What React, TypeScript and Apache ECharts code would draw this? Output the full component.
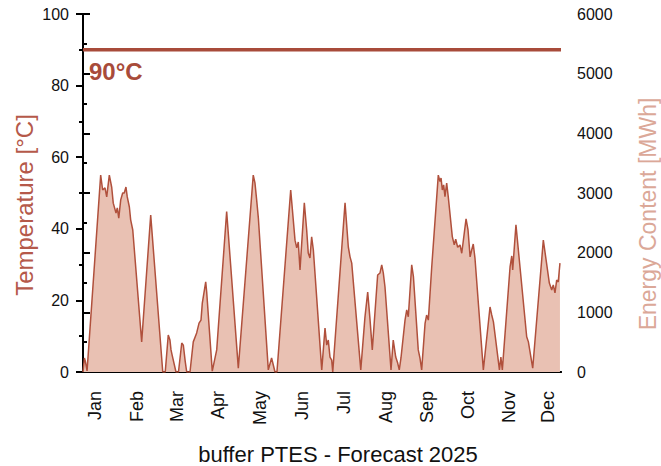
import { useEffect, useRef } from "react";
import * as echarts from "echarts";

// Month captions and the day of the year where each caption sits
const monthNames = ["Jan", "Feb", "Mar", "Apr", "May", "Jun", "Jul", "Aug", "Sep", "Oct", "Nov", "Dec"];
const monthLabelDays = [9, 41, 72, 103, 135, 167, 199, 231, 263, 294, 325, 355];

// Energy content of the buffer PTES in MWh: [day of year, MWh]
const energyContent: [number, number][] = [
  [0, 0], [1.1, 235], [1.9, 168], [3.1, 17],
  [13.5, 3300], [15.0, 3050], [16.8, 3085], [18.1, 2935], [20.1, 3300], [21.9, 3100], [23.1, 2830],
  [25.2, 2665], [26.2, 2750], [27.3, 2580], [28.8, 2885], [30.3, 3000], [31.5, 3000], [32.8, 3100],
  [33.8, 2935], [35.4, 2765], [36.4, 2550], [38.0, 2380],
  [44.8, 505], [51.7, 2630], [60.9, 0], [62.8, 0], [65.1, 620], [66.4, 535], [67.2, 370], [68.2, 270],
  [71.0, 0], [72.9, 0], [75.4, 485], [76.6, 450], [78.1, 170], [79.2, 0], [81.7, 0],
  [84.2, 505], [86.8, 655], [88.6, 820], [90.1, 870], [91.1, 1155], [93.7, 1510], [94.5, 1325], [98.7, 15],
  [102.1, 370], [109.7, 2690], [118.6, 65],
  [130.0, 3300], [131.3, 3170], [132.6, 2885], [133.9, 2580], [141.5, 35], [144.0, 235], [145.5, 100],
  [146.6, 0], [148.1, 0],
  [158.6, 3050], [161.9, 2210], [163.2, 2080], [164.4, 2180], [165.7, 1710], [169.0, 2835], [170.8, 2380],
  [172.0, 1995], [173.3, 1910], [174.6, 2265], [175.9, 2045], [182.3, 35],
  [184.8, 735], [186.1, 450], [187.3, 535], [188.6, 250], [189.9, 200], [190.7, 0],
  [200.1, 2835], [202.6, 2095], [203.9, 1930], [205.2, 1825], [212.1, 35],
  [215.3, 920], [217.4, 1340], [219.2, 870], [220.9, 370],
  [225.0, 1625], [226.8, 1660], [228.1, 1795], [229.3, 1660], [230.6, 1425], [235.2, 35],
  [236.9, 535], [238.8, 250], [240.3, 150], [241.5, 35], [242.8, 235],
  [245.9, 870], [247.2, 1040], [248.4, 925], [251.0, 1795], [252.3, 1600], [256.0, 370], [257.3, 235], [258.6, 35],
  [261.2, 815], [262.4, 955], [263.7, 870], [266.3, 1765], [271.3, 3300], [272.6, 3190], [273.4, 3250],
  [274.4, 3050], [275.4, 3135], [276.4, 2940], [277.7, 3165], [278.9, 2940], [282.0, 2270], [283.5, 2130],
  [284.6, 2225], [286.1, 2090], [287.9, 2130], [289.2, 1990], [292.5, 2565], [294.0, 2380], [295.6, 1930],
  [296.8, 2045], [298.0, 2145], [299.3, 1910], [305.7, 35],
  [310.8, 1090], [312.1, 955], [313.4, 840], [318.0, 35], [319.1, 250], [320.2, 35],
  [326.1, 1760], [327.4, 1945], [328.1, 1710], [330.6, 2465], [338.8, 590], [340.1, 505], [343.4, 65],
  [351.5, 2210], [356.1, 1490], [357.9, 1375], [359.1, 1460], [360.4, 1325], [361.7, 1540], [362.9, 1510],
  [364.2, 1825],
];

// Maximum storage temperature in °C
const maxTemperature = 90;
const yearDays = 365;

const FONT = "Liberation Sans, Arial, sans-serif";
const BRICK = "#a84b3a";

export default function App() {
  const ref = useRef<HTMLDivElement>(null);

  useEffect(() => {
    document.body.style.margin = "0";
    const chart = echarts.init(ref.current!, null, { renderer: "svg" });

    const tickStyle = { color: "#000", width: 2 };

    chart.setOption({
      animation: false,
      backgroundColor: "#fff",
      grid: { left: 83, right: 100, top: 14, bottom: 94 },
      xAxis: [
        {
          type: "value",
          min: 0,
          max: yearDays,
          axisLine: { show: true, lineStyle: { color: "#000", width: 2 } },
          axisTick: { show: false },
          splitLine: { show: false },
          axisLabel: {
            customValues: monthLabelDays,
            formatter: (v: number) => monthNames[monthLabelDays.indexOf(v)] ?? "",
            rotate: 90,
            margin: 19,
            fontSize: 18,
            color: "#111",
            fontFamily: FONT,
          },
        },
        {
          type: "value",
          position: "top",
          min: 0,
          max: yearDays,
          axisLine: { show: true, lineStyle: { color: "#000", width: 2 } },
          axisTick: { show: false },
          axisLabel: { show: false },
          splitLine: { show: false },
        },
      ],
      yAxis: [
        {
          type: "value",
          position: "left",
          min: 0,
          max: 100,
          interval: 20,
          axisLine: { show: true, lineStyle: { color: "#000", width: 2 } },
          axisTick: { show: true, length: 7, lineStyle: tickStyle },
          minorTick: { show: true, splitNumber: 2, length: 4, lineStyle: tickStyle },
          splitLine: { show: false },
          minorSplitLine: { show: false },
          axisLabel: { fontSize: 16, margin: 14, color: "#111", fontFamily: FONT },
        },
        {
          type: "value",
          position: "right",
          min: 0,
          max: 6000,
          interval: 1000,
          axisLine: { show: true, lineStyle: { color: "#000", width: 2 } },
          axisTick: { show: true, length: 7, lineStyle: tickStyle },
          minorTick: { show: true, splitNumber: 2, length: 4, lineStyle: tickStyle },
          splitLine: { show: false },
          minorSplitLine: { show: false },
          axisLabel: {
            fontSize: 16,
            margin: 16,
            color: "#111",
            fontFamily: FONT,
            formatter: (v: number) => String(v),
          },
        },
      ],
      series: [
        {
          name: "Energy Content",
          type: "line",
          yAxisIndex: 1,
          data: energyContent,
          symbol: "none",
          lineStyle: { color: "#b0503c", width: 1.5 },
          areaStyle: { color: "#e9c1b3", opacity: 1 },
        },
        {
          name: "Max Temperature",
          type: "line",
          yAxisIndex: 0,
          data: [
            [0, maxTemperature],
            [yearDays, maxTemperature],
          ],
          symbol: "none",
          lineStyle: { color: BRICK, width: 3.5 },
        },
      ],
      graphic: [
        {
          type: "text",
          x: 89,
          y: 71,
          style: {
            text: `${maxTemperature}°C`,
            font: `bold 24px ${FONT}`,
            fill: BRICK,
            textAlign: "left",
            textVerticalAlign: "middle",
          },
        },
        {
          type: "text",
          x: 24,
          y: 205,
          rotation: Math.PI / 2,
          style: {
            text: "Temperature [°C]",
            font: `24px ${FONT}`,
            fill: "#b5594a",
            textAlign: "center",
            textVerticalAlign: "middle",
          },
        },
        {
          type: "text",
          x: 648,
          y: 214,
          rotation: Math.PI / 2,
          style: {
            text: "Energy Content [MWh]",
            font: `23px ${FONT}`,
            fill: "#dba898",
            textAlign: "center",
            textVerticalAlign: "middle",
          },
        },
        {
          type: "text",
          x: 338,
          y: 454,
          style: {
            text: "buffer PTES - Forecast 2025",
            font: `22px ${FONT}`,
            fill: "#111",
            textAlign: "center",
            textVerticalAlign: "middle",
          },
        },
      ],
    });

    return () => chart.dispose();
  }, []);

  return <div ref={ref} style={{ width: 661, height: 466 }} />;
}
